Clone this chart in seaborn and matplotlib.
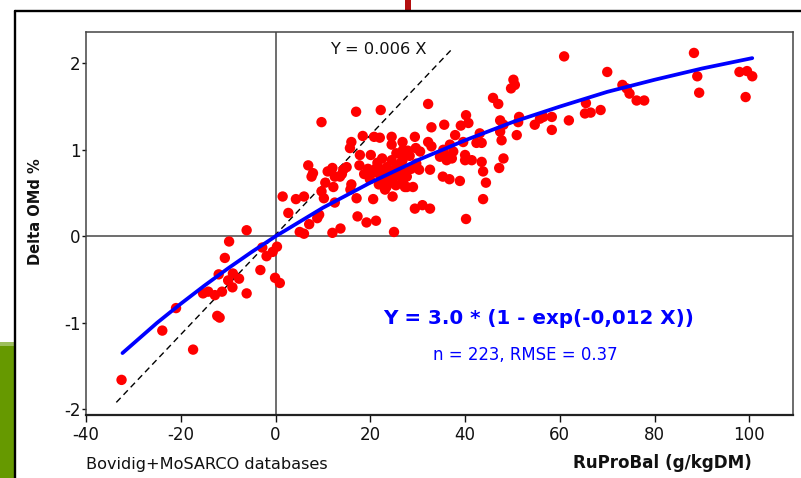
import matplotlib
matplotlib.use("Agg")
import matplotlib.pyplot as plt
import seaborn as sns
import pandas as pd
from matplotlib.lines import Line2D
from matplotlib.patches import Rectangle

# ---- data ----
ruprobal = [
    -32.5, -23.9, -21.0, -17.4, -15.3, -14.2, -12.8, -12.0, -11.8, -12.3, -11.3, -10.7,
    -10.0, -9.8, -9.1, -9.0, -7.7, -6.1, -6.1, -3.2, -2.8, -1.9, -0.6, 0.3, -0.1, 0.9,
    1.5, 2.7, 4.3, 6.0, 5.1, 6.0, 7.1, 8.8, 9.2, 9.7, 6.9, 7.6, 7.9, 9.7, 10.2,
    12.0, 12.2, 12.5, 12.5, 12.0, 13.7, 13.6, 14.3, 15.0, 15.7, 16.0, 15.8, 17.0, 17.1,
    17.3, 17.8, 17.7, 18.4, 19.2, 20.1, 20.6, 19.9, 21.2, 20.8, 22.2, 22.0, 21.3, 22.7,
    22.7, 23.4, 23.1, 23.8, 24.5, 24.5, 25.0, 25.4, 25.5, 26.8, 26.6, 27.3, 27.7, 25.2,
    24.1, 22.0, 24.7, 26.4, 26.8, 29.4, 29.6, 32.2, 32.9, 32.2, 32.9, 35.6, 37.9, 39.1,
    40.2, 40.7, 39.6, 35.4, 36.8, 34.7, 36.1, 37.2, 35.7, 37.5, 40.0, 40.0, 41.4, 42.4,
    43.5, 43.8, 44.4, 43.8, 40.2, 32.6, 30.3, 27.7, 26.9, 27.3, 29.0, 35.3, 36.7, 38.9,
    29.4, 31.0, 32.6, 43.5, 43.1, 45.9, 47.0, 47.4, 47.4, 47.7, 48.1, 47.2, 48.1, 50.9,
    51.2, 51.4, 50.2, 50.5, 49.7, 54.7, 55.8, 56.5, 58.3, 58.3, 61.9, 60.9, 70.0, 65.5,
    65.3, 66.5, 68.6, 73.2, 74.1, 74.7, 76.2, 77.8, 88.3, 89.0, 89.4, 97.9, 99.5, 100.6,
    99.2, 26.2, 26.9, 21.5, 22.5, 23.5, 24.5, 25.5, 26.0, 23.0, 21.8, 24.8, 22.6, 20.7,
    19.5, 18.7, 28.3, 28.6, 27.9, 30.5, 29.7, 16.0, 14.0, 10.5, 11.0,
]
delta_omd = [
    -1.66, -1.09, -0.83, -1.31, -0.66, -0.64, -0.68, -0.44, -0.94, -0.92, -0.64, -0.25,
    -0.51, -0.06, -0.59, -0.43, -0.49, -0.66, 0.07, -0.39, -0.13, -0.23, -0.18, -0.12, -0.48, -0.54,
    0.46, 0.27, 0.43, 0.46, 0.05, 0.03, 0.14, 0.21, 0.25, 1.32, 0.82, 0.69, 0.73, 0.52, 0.44,
    0.79, 0.57, 0.69, 0.39, 0.04, 0.09, 0.69, 0.77, 0.80, 1.02, 1.09, 0.54, 1.44, 0.44,
    0.23, 0.94, 0.82, 1.16, 0.16, 0.94, 0.43, 0.66, 0.18, 1.15, 1.46, 1.14, 0.79, 0.77,
    0.65, 0.57, 0.54, 0.71, 1.15, 1.06, 0.05, 0.59, 0.96, 1.09, 0.86, 0.73, 0.57, 0.75,
    0.67, 0.71, 0.46, 0.95, 0.88, 1.15, 1.02, 1.09, 1.04, 1.53, 1.26, 1.29, 1.17, 1.28,
    1.40, 1.31, 1.09, 1.00, 1.06, 0.92, 0.88, 0.90, 0.94, 0.98, 0.94, 0.88, 0.88, 1.08,
    0.86, 0.75, 0.62, 0.43, 0.20, 0.77, 0.77, 0.69, 0.65, 0.57, 0.57, 0.69, 0.66, 0.64,
    0.32, 0.36, 0.32, 1.08, 1.19, 1.60, 1.53, 1.34, 1.21, 1.11, 0.90, 0.79, 1.29, 1.17,
    1.32, 1.38, 1.81, 1.75, 1.71, 1.29, 1.36, 1.38, 1.38, 1.23, 1.34, 2.08, 1.90, 1.54,
    1.42, 1.43, 1.46, 1.75, 1.71, 1.65, 1.57, 1.57, 2.12, 1.85, 1.66, 1.90, 1.91, 1.85,
    1.61, 0.79, 1.00, 0.85, 0.90, 0.80, 0.88, 0.82, 0.70, 0.62, 0.60, 0.62, 0.72, 0.74,
    0.78, 0.72, 0.93, 0.78, 0.99, 0.98, 0.84, 0.60, 0.72, 0.62, 0.75,
]

fit_x = [-32.3, -25, -20, -15, -10, -5, 0, 10, 20, 30, 40, 50, 60, 70, 80, 90, 100.6]
fit_y = [-1.35, -1.00, -0.78, -0.57, -0.37, -0.18, 0.0, 0.33, 0.62, 0.88, 1.11,
         1.32, 1.50, 1.67, 1.81, 1.94, 2.06]

ref_x = [-33.6, 37.5]
ref_y = [-1.92, 2.18]

x_ticks = [-40, -20, 0, 20, 40, 60, 80, 100]
y_ticks = [-2, -1, 0, 1, 2]

fit_label = "Y = 3.0 * (1 - exp(-0,012 X))"
stat_label = "n = 223, RMSE = 0.37"
ref_label = "Y = 0.006 X"
source_label = "Bovidig+MoSARCO databases"
x_label = "RuProBal (g/kgDM)"
y_label = "Delta OMd %"

n = min(len(ruprobal), len(delta_omd))
df = pd.DataFrame({"x": ruprobal[:n], "y": delta_omd[:n]})
fit_df = pd.DataFrame({"x": fit_x, "y": fit_y})
ref_df = pd.DataFrame({"x": ref_x, "y": ref_y})

sns.set_style("white")
plt.rcParams["font.family"] = ["DejaVu Sans"]
plt.rcParams["axes.unicode_minus"] = False

fig = plt.figure(figsize=(8.01, 4.78), dpi=100)
ax = fig.add_axes([86 / 801, 1 - 415 / 478, (793 - 86) / 801, (415 - 32) / 478])

ax.axvline(0, color="#555555", lw=1.2, zorder=1)
ax.axhline(0, color="#555555", lw=1.2, zorder=1)

sns.lineplot(data=ref_df, x="x", y="y", ax=ax, color="black", lw=1.0,
             linestyle=(0, (4.5, 3)), estimator=None, sort=False, zorder=2)
sns.scatterplot(data=df, x="x", y="y", ax=ax, color="#ff0000", s=56,
                edgecolor="none", linewidth=0, zorder=3)
sns.lineplot(data=fit_df, x="x", y="y", ax=ax, color="#0000ff", lw=2.7,
             estimator=None, sort=False, zorder=4)

ax.set_xlim(-40, 109.2)
ax.set_ylim(-2.066, 2.362)
ax.set_xticks(x_ticks)
ax.set_yticks(y_ticks)
ax.set_xlabel("")
ax.set_ylabel("")
ax.tick_params(axis="x", length=5, width=1, pad=3, labelsize=12, colors="#111111", direction="out", bottom=True)
ax.tick_params(axis="y", length=3, width=1, pad=1, labelsize=12, colors="#111111", direction="out", left=True)
for side, sp in ax.spines.items():
    sp.set_visible(True)
    sp.set_color("#444444")
    sp.set_linewidth(1.1)
ax.spines["bottom"].set_color("#222222")
ax.spines["bottom"].set_linewidth(1.6)

ax.text(21.6, 2.154, ref_label, fontsize=11.7, ha="center", va="center", color="#111111")
ax.text(55.5, -0.956, fit_label, fontsize=14.3, fontweight="bold", ha="center",
        va="center", color="#0000ff")
ax.text(52.7, -1.372, stat_label, fontsize=11.9, ha="center", va="center", color="#0000ff")

fig.text(86 / 801, 1 - 465 / 478, source_label, fontsize=11.6, ha="left", va="center", color="#111111")
fig.text(752 / 801, 1 - 463 / 478, x_label, fontsize=12.1, fontweight="bold", ha="right",
         va="center", color="#111111")
fig.text(36 / 801, 1 - 212 / 478, y_label, fontsize=10.5, fontweight="bold", rotation=90,
         ha="center", va="center", color="#111111")

# decorative slide frame
fig.add_artist(Rectangle((0, 0), 14 / 801, 1 - 342 / 478, transform=fig.transFigure,
                         facecolor="#669900", edgecolor="none", zorder=0))
fig.add_artist(Rectangle((0, 1 - 346 / 478), 14 / 801, 4 / 478, transform=fig.transFigure,
                         facecolor="#9dbf5c", edgecolor="none", zorder=0))
fig.add_artist(Line2D([15 / 801, 1.0], [1 - 10.5 / 478, 1 - 10.5 / 478], transform=fig.transFigure,
                      color="black", lw=1.7))
fig.add_artist(Line2D([15 / 801, 15 / 801], [0, 1 - 10.5 / 478], transform=fig.transFigure,
                      color="black", lw=1.7))
fig.add_artist(Rectangle((405 / 801, 1 - 10 / 478), 6 / 801, 10 / 478, transform=fig.transFigure,
                         facecolor="#b40f0f", edgecolor="none"))

fig.savefig("out.png", dpi=100)
